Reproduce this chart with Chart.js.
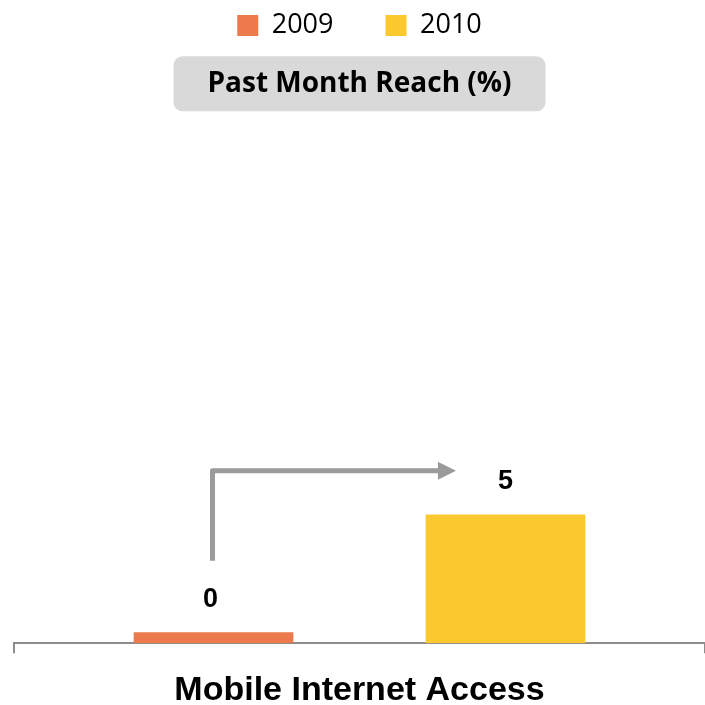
<!DOCTYPE html>
<html>
<head>
<meta charset="utf-8">
<script src="https://cdn.jsdelivr.net/npm/chart.js@4"></script>
<style>
  body { margin: 0; background: #fff; }
  #wrap { width: 705px; height: 705px; }
</style>
</head>
<body>
<div id="wrap"><canvas id="chart"></canvas></div>
<script>
const categories = ['Mobile Internet Access'];
const seriesNames = ['2009', '2010'];
const reach2009 = [0];
const reach2010 = [5];
const seriesColors = ['#ED7A4C', '#FBC92E'];
const chartTitle = 'Past Month Reach (%)';

const TITLE_FONT = { family: 'Open Sans', size: 28, weight: 'bold' };
const TITLE_PAD = { top: 18, bottom: 28 };

// grey rounded box behind the chart title
const titleBox = {
    id: 'titleBox',
    beforeDraw(chart) {
        const t = chart.titleBlock;
        if (!t) return;
        const ctx = chart.ctx;
        ctx.save();
        ctx.font = `bold ${TITLE_FONT.size}px "${TITLE_FONT.family}"`;
        const w = ctx.measureText(chartTitle).width + 68;
        const h = 55;
        const cx = (t.left + t.right) / 2;
        const cy = t.top + TITLE_PAD.top + TITLE_FONT.size * 1.2 / 2;
        ctx.fillStyle = '#d9d9d9';
        ctx.beginPath();
        ctx.roundRect(cx - w / 2, cy - h / 2, w, h, 9);
        ctx.fill();
        ctx.restore();
    }
};

// value written above each bar
const valueLabels = {
    id: 'valueLabels',
    afterDatasetsDraw(chart) {
        const ctx = chart.ctx;
        ctx.save();
        ctx.font = 'bold 27px "Liberation Sans"';
        ctx.fillStyle = '#000';
        ctx.textAlign = 'center';
        ctx.textBaseline = 'middle';
        chart.data.datasets.forEach((ds, i) => {
            chart.getDatasetMeta(i).data.forEach((bar, j) => {
                ctx.fillText(String(ds.data[j]), bar.x - (i === 0 ? 3 : 0), bar.y - 33);
            });
        });
        ctx.restore();
    }
};

// elbow arrow from 2009 to 2010
const growthArrow = {
    id: 'growthArrow',
    afterDatasetsDraw(chart) {
        const a = chart.getDatasetMeta(0).data[0];
        const b = chart.getDatasetMeta(1).data[0];
        if (!a || !b) return;
        const y = chart.scales.y;
        const x0 = a.x - 1;
        const yLow = y.getPixelForValue(3.2);
        const yHigh = y.getPixelForValue(6.7);
        const xEnd = b.x - b.width * 0.31;
        const ctx = chart.ctx;
        ctx.save();
        ctx.strokeStyle = '#9b9b9b';
        ctx.fillStyle = '#9b9b9b';
        ctx.lineWidth = 5;
        ctx.lineJoin = 'round';
        ctx.beginPath();
        ctx.moveTo(x0, yLow);
        ctx.lineTo(x0, yHigh);
        ctx.lineTo(xEnd - 16, yHigh);
        ctx.stroke();
        ctx.beginPath();
        ctx.moveTo(xEnd - 18, yHigh - 9);
        ctx.lineTo(xEnd, yHigh);
        ctx.lineTo(xEnd - 18, yHigh + 9);
        ctx.closePath();
        ctx.fill();
        ctx.restore();
    }
};

const ctx = document.getElementById('chart').getContext('2d');
new Chart(ctx, {
    type: 'bar',
    data: {
        labels: categories,
        datasets: [{
            label: seriesNames[0],
            data: reach2009,
            backgroundColor: seriesColors[0],
            minBarLength: 11
        }, {
            label: seriesNames[1],
            data: reach2010,
            backgroundColor: seriesColors[1]
        }]
    },
    options: {
        responsive: true,
        maintainAspectRatio: false,
        animation: false,
        categoryPercentage: 0.845,
        barPercentage: 0.547,
        layout: { padding: { left: 14, right: 0, top: -40, bottom: -23 } },
        plugins: {
            legend: {
                position: 'top',
                fullSize: false,
                labels: {
                    boxWidth: 21,
                    boxHeight: 21,
                    padding: 52,
                    color: '#000',
                    font: { family: 'Open Sans', size: 27 }
                }
            },
            title: {
                display: true,
                text: chartTitle,
                weight: 500,
                fullSize: false,
                color: '#000',
                font: TITLE_FONT,
                padding: TITLE_PAD
            },
            tooltip: { enabled: false }
        },
        scales: {
            x: {
                grid: {
                    display: true,
                    offset: true,
                    drawOnChartArea: false,
                    drawTicks: true,
                    tickLength: 10,
                    color: '#8c8c8c',
                    lineWidth: 2
                },
                border: { display: true, color: '#8c8c8c', width: 2 },
                ticks: {
                    color: '#000',
                    padding: 17,
                    font: { family: 'Liberation Sans', size: 34, weight: 'bold' }
                }
            },
            y: { display: false, min: 0, max: 20 }
        }
    },
    plugins: [titleBox, valueLabels, growthArrow]
});
</script>
</body>
</html>
